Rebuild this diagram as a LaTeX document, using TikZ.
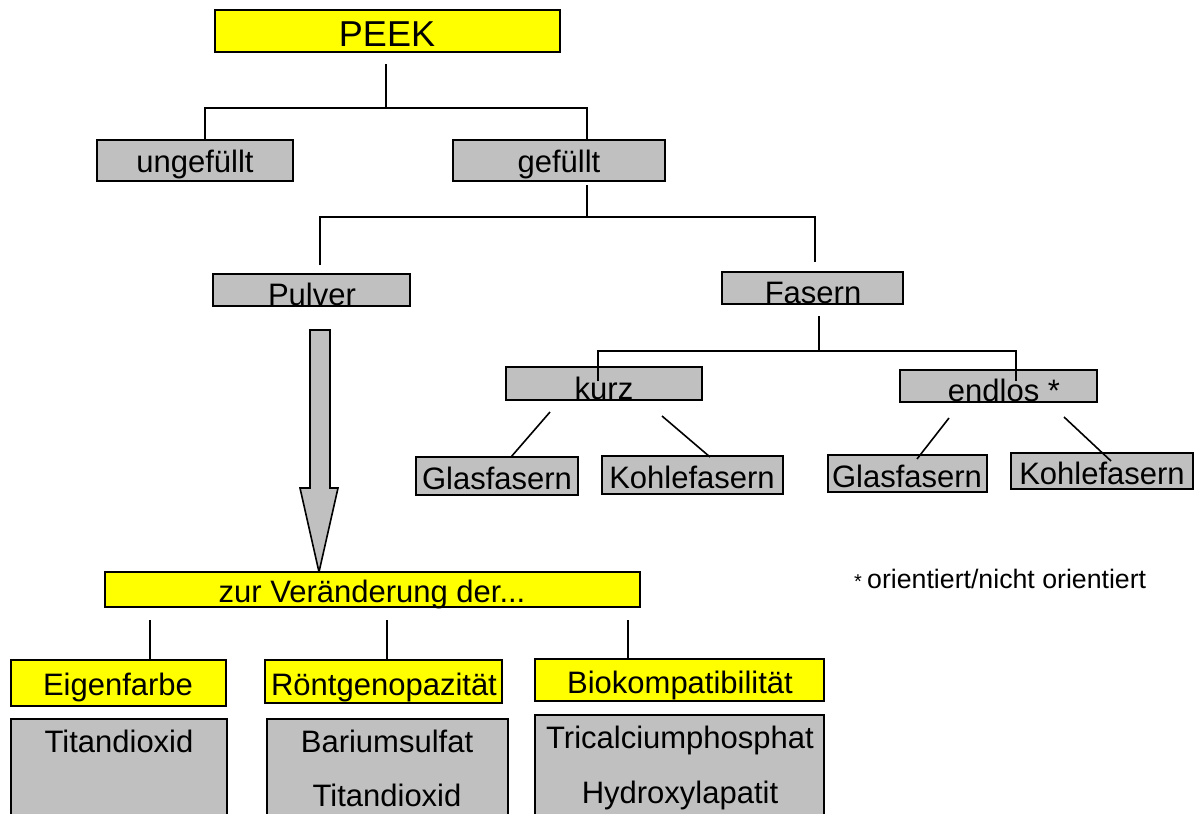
\documentclass[tikz,border=0pt]{standalone}
\usepackage{fontspec}
\setmainfont{Liberation Sans}
\usetikzlibrary{calc}
\definecolor{boxgray}{HTML}{C0C0C0}
\definecolor{boxyellow}{HTML}{FFFF00}
\begin{document}
\begin{tikzpicture}[x=1pt,y=-1pt,
  box/.style={draw=black,line width=2pt,inner sep=0pt,rectangle},
  gbox/.style={box,fill=boxgray},
  ybox/.style={box,fill=boxyellow},
  lbl/.style={anchor=base,inner sep=0pt,font=\fontsize{31}{37}\selectfont},
  conn/.style={draw=black,line width=1.6pt}]
\useasboundingbox (0,0) rectangle (1200,814);
\fill[white] (0,0) rectangle (1200,814);
\clip (0,0) rectangle (1200,814);

% box helper: corners given as (x1,y1) (x2,y2)
\newcommand{\mkbox}[6]{%
  \node[#1,minimum width={#4-#2},minimum height={#5-#3}] (#6) at ({(#2+#4)/2},{(#3+#5)/2}) {};}

% top levels
\mkbox{ybox}{215}{10}{560}{52}{peek}
\node[lbl,font=\fontsize{36}{42}\selectfont] (peekT) at (387,46) {PEEK};
\mkbox{gbox}{97}{140}{293}{181}{ung}
\node[lbl] (ungT) at (195,172) {ungefüllt};
\mkbox{gbox}{453}{140}{665}{181}{gef}
\node[lbl] (gefT) at (559,172) {gefüllt};

\mkbox{gbox}{213}{274}{410}{306}{pulver}
\node[lbl] (pulverT) at (312,305) {Pulver};
\mkbox{gbox}{722}{272}{903}{304}{fasern}
\node[lbl] (fasernT) at (813,303) {Fasern};

\mkbox{gbox}{506}{367}{702}{400}{kurz}
\node[lbl] (kurzT) at (604,399) {kurz};
\mkbox{gbox}{900}{370}{1097}{402}{endlos}
\node[lbl] (endlosT) at (1004,401) {endlos *};

\mkbox{gbox}{416}{457}{578}{495}{glasA}
\node[lbl] (glasAT) at (497,489) {Glasfasern};
\mkbox{gbox}{602}{456}{783}{494}{kohleA}
\node[lbl] (kohleAT) at (692,488) {Kohlefasern};
\mkbox{gbox}{828}{455}{987}{492}{glasB}
\node[lbl] (glasBT) at (907,487) {Glasfasern};
\mkbox{gbox}{1011}{453}{1193}{489}{kohleB}
\node[lbl] (kohleBT) at (1102,484) {Kohlefasern};

% connectors of the upper tree
\coordinate (j1) at (386,108);
\draw[conn] (386,64) -- (j1);
\draw[conn] (205,140) |- (j1) -| (587,140);
\coordinate (j2) at (587,217);
\draw[conn] (587,185) -- (j2);
\draw[conn] (320,265) |- (j2) -| (815,262);
\coordinate (j3) at (819,351);
\draw[conn] (819,316) -- (j3);
\draw[conn] (598,381) |- (j3) -| (1016,381);
\draw[conn] (550,412) -- (511,457);
\draw[conn] (662,416) -- (710,457);
\draw[conn] (949,418) -- (917,459);
\draw[conn] (1064,417) -- (1111,461);

% block arrow from Pulver down
\draw[fill=boxgray,line width=1.6pt,line join=miter]
  (310,330) -- (330,330) -- (330,488) -- (338,488) -- (319,572)
  -- (300,488) -- (310,488) -- cycle;

% lower block
\mkbox{ybox}{105}{572}{640}{607}{zur}
\node[lbl] (zurT) at (372,602) {zur Veränderung der...};

\draw[conn] (150,620) -- (150,660);
\draw[conn] (387,620) -- (387,660);
\draw[conn] (628,620) -- (628,658);

\mkbox{ybox}{11}{660}{226}{706}{eigen}
\node[lbl] (eigenT) at (118,695) {Eigenfarbe};
\mkbox{ybox}{265}{660}{502}{703}{roent}
\node[lbl] (roentT) at (384,695) {Röntgenopazität};
\mkbox{ybox}{535}{659}{824}{701}{bio}
\node[lbl] (bioT) at (680,693) {Biokompatibilität};

\mkbox{gbox}{11}{719}{227}{830}{matA}
\node[lbl] (matAT) at (119,752) {Titandioxid};
\mkbox{gbox}{267}{719}{508}{830}{matB}
\node[lbl] (matBT1) at (387,752) {Bariumsulfat};
\node[lbl] (matBT2) at (387,806) {Titandioxid};
\mkbox{gbox}{535}{715}{824}{830}{matC}
\node[lbl] (matCT1) at (680,748) {Tricalciumphosphat};
\node[lbl] (matCT2) at (680,803) {Hydroxylapatit};

% footnote
\node[anchor=base west,inner sep=0pt,font=\fontsize{20}{24}\selectfont] (star) at (854,588) {*};
\node[anchor=base west,inner sep=0pt,font=\fontsize{26.7}{32}\selectfont] (note) at (867,588) {orientiert/nicht orientiert};
\end{tikzpicture}
\end{document}
